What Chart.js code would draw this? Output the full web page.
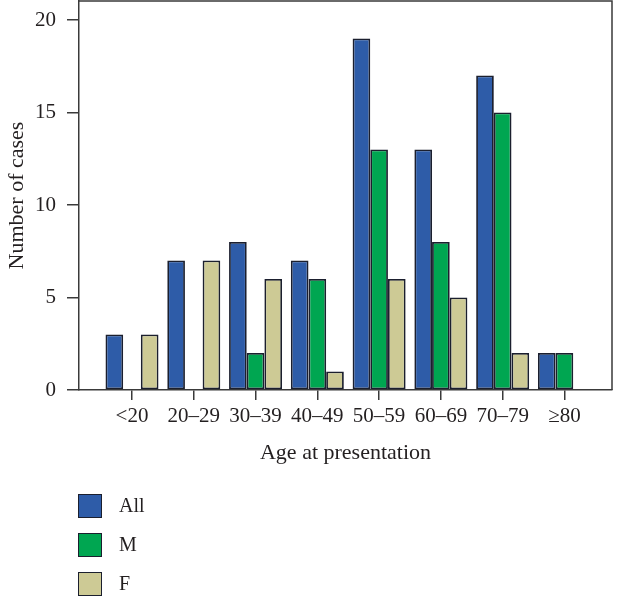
<!DOCTYPE html>
<html>
<head>
<meta charset="utf-8">
<script src="https://cdn.jsdelivr.net/npm/chart.js@4/dist/chart.umd.min.js"></script>
<style>
  html, body { margin: 0; padding: 0; background: #fff; }
  #wrap { position: relative; width: 617px; height: 597px; }
  #legend { position: absolute; left: 78px; top: 493px; font-family: "Liberation Serif", serif; font-size: 20px; color: #231f20; }
  .item { display: flex; align-items: center; height: 25px; margin-bottom: 14px; }
  .box { width: 22px; height: 22px; border: 1.5px solid #1b1f2e; margin-right: 17px; }
</style>
</head>
<body>
<div id="wrap">
  <canvas id="c" width="617" height="597"></canvas>
  <div id="legend"></div>
</div>
<script>
const categories = ["<20", "20\u201329", "30\u201339", "40\u201349", "50\u201359", "60\u201369", "70\u201379", "\u226580"];
const seriesNames = ["All", "M", "F"];
const allValues = [3, 7, 8, 7, 19, 13, 17, 2];
const maleValues = [0, 0, 2, 6, 13, 8, 15, 2];
const femaleValues = [3, 7, 6, 1, 6, 5, 2, 0];
const yTicks = [0, 5, 10, 15, 20];
const colors = ["#2e5ca8", "#00a651", "#cdca95"];

const FONT = "'Liberation Serif', serif";
const INK = "#231f20";
const AXIS = "#3a3a3a";

const toPoints = vals => vals.map((v, i) => ({ x: i, y: v }));

const framePlugin = {
  id: 'frame',
  afterDatasetsDraw(chart) {
    const { ctx, chartArea: a } = chart;
    ctx.save();
    ctx.strokeStyle = AXIS;
    ctx.lineWidth = 1.5;
    ctx.beginPath();
    ctx.moveTo(a.left, a.top);
    ctx.lineTo(a.right, a.top);
    ctx.lineTo(a.right, a.bottom);
    ctx.stroke();
    ctx.restore();
  }
};

const chart = new Chart(document.getElementById('c'), {
  type: 'bar',
  data: {
    datasets: [allValues, maleValues, femaleValues].map((vals, k) => ({
      label: seriesNames[k],
      data: toPoints(vals),
      backgroundColor: colors[k],
      borderColor: "#1b1f2e",
      borderWidth: 1.8,
      borderSkipped: false,
      categoryPercentage: 0.858,
      barPercentage: 1.0
    }))
  },
  options: {
    responsive: false,
    animation: false,
    layout: { padding: { top: 1, right: 5, bottom: 127, left: 0 } },
    plugins: { legend: { display: false }, tooltip: { enabled: false } },
    scales: {
      x: {
        type: 'linear',
        offset: false,
        min: -0.858,
        max: 7.77,
        afterBuildTicks: s => { s.ticks = categories.map((_, i) => ({ value: i })); },
        afterFit: s => { s.height = 80; s.paddingLeft = 0; s.paddingRight = 0; },
        grid: { display: true, offset: false, drawOnChartArea: false, drawTicks: true, tickLength: 10, color: AXIS, lineWidth: 1.5 },
        border: { display: true, color: AXIS, width: 1.5 },
        ticks: {
          callback: v => categories[v],
          font: { family: FONT, size: 21 },
          color: INK,
          maxRotation: 0,
          autoSkip: false,
          padding: 4
        },
        title: {
          display: true,
          text: 'Age at presentation',
          font: { family: FONT, size: 22 },
          color: INK,
          padding: { top: 7 }
        }
      },
      y: {
        min: 0,
        max: 21.03,
        afterBuildTicks: s => { s.ticks = yTicks.map(v => ({ value: v })); },
        afterFit: s => { s.width = 79; s.paddingTop = 0; s.paddingBottom = 0; },
        grid: { display: true, drawOnChartArea: false, drawTicks: true, tickLength: 12, color: AXIS, lineWidth: 1.5 },
        border: { display: true, color: AXIS, width: 1.5 },
        ticks: {
          font: { family: FONT, size: 21 },
          color: INK,
          padding: 11
        },
        title: {
          display: true,
          text: 'Number of cases',
          font: { family: FONT, size: 22 },
          color: INK,
          padding: { bottom: 2 }
        }
      }
    }
  },
  plugins: [framePlugin]
});

const legend = document.getElementById('legend');
chart.data.datasets.forEach(ds => {
  const item = document.createElement('div');
  item.className = 'item';
  const box = document.createElement('div');
  box.className = 'box';
  box.style.background = ds.backgroundColor;
  const label = document.createElement('span');
  label.textContent = ds.label;
  item.appendChild(box);
  item.appendChild(label);
  legend.appendChild(item);
});
</script>
</body>
</html>
